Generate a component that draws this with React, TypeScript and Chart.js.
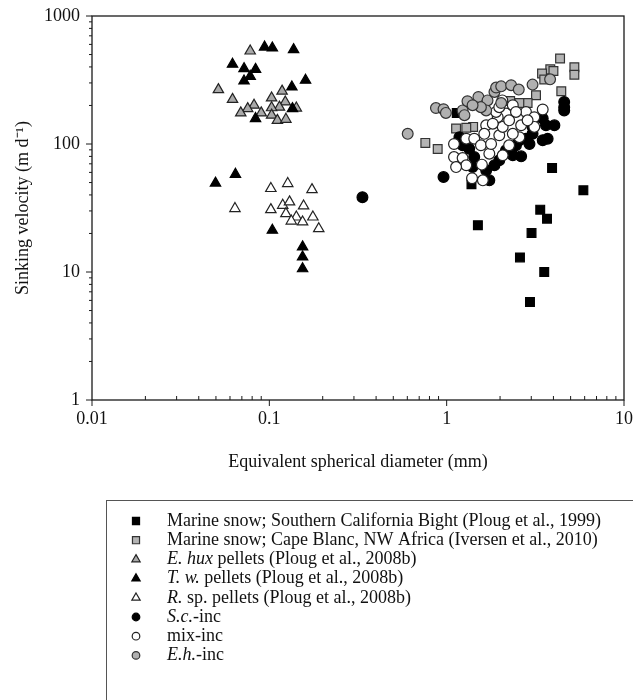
import React, { useEffect, useRef } from "react";
import { Chart, registerables } from "chart.js";
import { drawPoint } from "chart.js/helpers";

Chart.register(...registerables);

const FONT = "'Liberation Serif', 'Times New Roman', serif";

// ---- axis ticks ----
const xTickValues = [0.01, 0.1, 1, 10];
const xTickLabels = ["0.01", "0.1", "1", "10"];
const yTickValues = [1, 10, 100, 1000];
const yTickLabels = ["1", "10", "100", "1000"];

// ---- series labels (italic prefix + upright rest) ----
const labelItalic = ["", "", "E. hux", "T. w.", "R.", "S.c.", "", "E.h."];
const labelRest = [
  "Marine snow; Southern California Bight (Ploug et al., 1999)",
  "Marine snow; Cape Blanc, NW Africa (Iversen et al., 2010)",
  " pellets (Ploug et al., 2008b)",
  " pellets (Ploug et al., 2008b)",
  " sp. pellets (Ploug et al., 2008b)",
  "-inc",
  "mix-inc",
  "-inc",
];

// ---- data ----
const scbX = [3.93, 5.9, 3.37, 3.68, 1.5, 3.01, 2.59, 3.55, 2.95, 1.38, 1.14];
const scbY = [65, 43.5, 30.7, 26.1, 23.2, 20.2, 13.0, 10.0, 5.84, 48.4, 175];

const cbX = [4.36, 5.25, 5.25, 3.84, 4.0, 3.45, 3.55, 4.43, 3.19, 2.86, 2.57, 2.28, 1.41, 1.29, 1.13, 0.758, 0.89];
const cbY = [465, 398, 348, 383, 372, 355, 319, 258, 240, 209, 209, 217, 136, 134, 132, 102, 91.4];

const ehuxX = [0.078, 0.0516, 0.062, 0.118, 0.103, 0.123, 0.142, 0.114, 0.103, 0.082, 0.0755, 0.069, 0.09, 0.103, 0.111, 0.124];
const ehuxY = [533, 266, 223, 259, 229, 213, 191, 194, 192, 201, 189, 175, 175, 168, 153, 156];

const twX = [0.094, 0.104, 0.137, 0.062, 0.072, 0.0836, 0.078, 0.072, 0.16, 0.134, 0.0836, 0.135, 0.0497, 0.0644, 0.104, 0.154, 0.154, 0.154];
const twY = [572, 563, 546, 420, 388, 383, 338, 311, 315, 279, 158, 189, 49.5, 58, 21.2, 15.7, 13.1, 10.6];

const rspX = [0.064, 0.102, 0.127, 0.174, 0.102, 0.119, 0.13, 0.156, 0.124, 0.142, 0.154, 0.176, 0.19, 0.133];
const rspY = [31.3, 44.9, 49.1, 44, 30.7, 33.2, 35.3, 32.8, 28.6, 26.9, 24.6, 26.9, 21.8, 25];

const scX = [0.335, 0.96, 4.6, 4.6, 4.6, 4.05, 3.71, 3.48, 3.05, 2.93, 3.48, 3.63, 2.63, 2.57, 2.8, 2.16, 1.86, 1.74, 1.67, 1.4, 1.43, 1.18, 1.34, 1.23, 1.98, 2.36, 2.46, 3.05];
const scY = [38.4, 55.2, 213, 194, 183, 140, 110, 107, 120, 100, 158, 140, 80.1, 107, 110, 89.3, 68.2, 52, 62.3, 66.1, 79, 113, 92, 97.7, 74.6, 81.6, 97.7, 136];

const mixX = [1.1, 1.1, 1.23, 1.29, 1.39, 1.6, 1.58, 1.29, 1.43, 1.67, 1.56, 1.74, 1.78, 1.98, 2.07, 2.16, 2.36, 2.57, 2.63, 2.8, 3.12, 3.48, 3.12, 1.94, 1.82, 2.25, 2.36, 1.63, 2.07, 2.25, 2.86, 2.46, 1.9, 1.13, 2.06, 1.98];
const mixY = [100, 79, 77.7, 68.2, 54, 52, 69, 110, 110, 140, 97.7, 84, 100, 117, 136, 173, 201, 113, 140, 178, 162, 186, 136, 162, 144, 97.7, 120, 120, 81.6, 153, 153, 178, 178, 66, 219, 194];

const ehX = [0.603, 0.87, 0.96, 0.99, 1.23, 1.26, 1.31, 1.51, 1.7, 1.86, 1.9, 2.03, 2.31, 2.55, 3.05, 3.83, 1.67, 2.03, 1.56, 1.4];
const ehY = [120, 191, 187, 175, 183, 168, 216, 233, 219, 255, 276, 282, 288, 266, 291, 320, 183, 209, 194, 201];

const pts = (xs: number[], ys: number[]) => xs.map((x, i) => ({ x, y: ys[i] }));

const frameTicksPlugin = {
  id: "frameTicks",
  afterDraw(chart: any) {
    const { ctx, chartArea: a } = chart;
    const xs = chart.scales.x;
    const ys = chart.scales.y;
    ctx.save();
    ctx.strokeStyle = "#1a1a1a";
    ctx.lineWidth = 1.3;
    ctx.strokeRect(a.left, a.top, a.right - a.left, a.bottom - a.top);
    ctx.lineWidth = 1;
    ctx.beginPath();
    for (let d = Math.round(Math.log10(ys.min)); d <= Math.round(Math.log10(ys.max)); d++) {
      for (let k = 1; k <= 9; k++) {
        const v = k * Math.pow(10, d);
        if (v < ys.min * 0.9999999 || v > ys.max * 1.0000001) continue;
        const p = ys.getPixelForValue(v);
        ctx.moveTo(a.left, p);
        ctx.lineTo(a.left - (k === 1 ? 6 : 3), p);
      }
    }
    for (let d = Math.round(Math.log10(xs.min)); d <= Math.round(Math.log10(xs.max)); d++) {
      for (let k = 1; k <= 9; k++) {
        const v = k * Math.pow(10, d);
        if (v < xs.min * 0.9999999 || v > xs.max * 1.0000001) continue;
        const p = xs.getPixelForValue(v);
        if (k === 1) {
          ctx.moveTo(p, a.bottom);
          ctx.lineTo(p, a.bottom + 6);
        } else {
          ctx.moveTo(p, a.bottom);
          ctx.lineTo(p, a.bottom - 4);
        }
      }
    }
    ctx.stroke();
    ctx.restore();
  },
};

const LEG_LEFT = 106;
const LEG_TOP = 500;
const LEG_ROW0 = 521;
const LEG_STEP = 19.2;

const legendPlugin = {
  id: "customLegend",
  afterDraw(chart: any) {
    const { ctx } = chart;
    ctx.save();
    ctx.strokeStyle = "#555";
    ctx.lineWidth = 1;
    ctx.strokeRect(LEG_LEFT + 0.5, LEG_TOP + 0.5, 1000, 1000);
    chart.data.datasets.forEach((ds: any, i: number) => {
      const y = LEG_ROW0 + i * LEG_STEP;
      ctx.fillStyle = ds.backgroundColor;
      ctx.strokeStyle = ds.borderColor;
      ctx.lineWidth = 1.2;
      const r = ds.pointStyle === "rect" ? 5 : ds.pointStyle === "triangle" ? 4.8 : 3.8;
      drawPoint(ctx, { pointStyle: ds.pointStyle, radius: r, rotation: 0, borderWidth: 1.2 }, 136, y);
      let x = 167;
      ctx.fillStyle = "#111";
      ctx.textBaseline = "middle";
      ctx.textAlign = "left";
      if (labelItalic[i]) {
        ctx.font = `italic 18px ${FONT}`;
        ctx.fillText(labelItalic[i], x, y);
        x += ctx.measureText(labelItalic[i]).width;
      }
      ctx.font = `18px ${FONT}`;
      ctx.fillText(labelRest[i], x, y);
    });
    ctx.restore();
  },
};

function mk(label: string, data: any, style: string, bg: string, border: string, radius: number, order: number) {
  return {
    label,
    data,
    pointStyle: style,
    backgroundColor: bg,
    borderColor: border,
    pointRadius: radius,
    pointBorderWidth: 1.2,
    showLine: false,
    order,
  };
}

export default function App() {
  const ref = useRef<HTMLCanvasElement | null>(null);
  useEffect(() => {
    if (!ref.current) return;
    const labels = labelItalic.map((it, i) => it + labelRest[i]);
    const chart = new Chart(ref.current, {
      type: "scatter",
      data: {
        datasets: [
          mk(labels[0], pts(scbX, scbY), "rect", "#000000", "#000000", 6.2, 8),
          mk(labels[1], pts(cbX, cbY), "rect", "#b4b4b4", "#333333", 6.2, 7),
          mk(labels[2], pts(ehuxX, ehuxY), "triangle", "#a9a9a9", "#222222", 6, 6),
          mk(labels[3], pts(twX, twY), "triangle", "#000000", "#000000", 6, 5),
          mk(labels[4], pts(rspX, rspY), "triangle", "#ffffff", "#222222", 6, 4),
          mk(labels[5], pts(scX, scY), "circle", "#000000", "#000000", 5.4, 3),
          mk(labels[6], pts(mixX, mixY), "circle", "#ffffff", "#222222", 5.4, 2),
          mk(labels[7], pts(ehX, ehY), "circle", "#b0b0b0", "#333333", 5.4, 1),
        ],
      },
      options: {
        responsive: false,
        animation: false,
        events: [],
        layout: { padding: { left: 0, right: 9, top: 16, bottom: 227 } },
        plugins: { legend: { display: false }, tooltip: { enabled: false } },
        scales: {
          x: {
            type: "logarithmic",
            min: 0.01,
            max: 10,
            grid: { display: false, drawTicks: false },
            border: { display: false },
            afterBuildTicks: (s: any) => {
              s.ticks = xTickValues.map((v) => ({ value: v }));
            },
            afterFit: (s: any) => {
              s.height = 73;
              s.paddingLeft = 0;
              s.paddingRight = 0;
            },
            ticks: {
              autoSkip: false,
              maxRotation: 0,
              padding: 8,
              color: "#111",
              font: { family: FONT, size: 18 },
              callback: (v: any) => {
                const i = xTickValues.findIndex((t) => Math.abs(t - Number(v)) < 1e-9);
                return i >= 0 ? xTickLabels[i] : "";
              },
            },
            title: {
              display: true,
              text: "Equivalent spherical diameter (mm)",
              color: "#111",
              font: { family: FONT, size: 18 },
              padding: { top: 0, bottom: 0 },
            },
          },
          y: {
            type: "logarithmic",
            min: 1,
            max: 1000,
            grid: { display: false, drawTicks: false },
            border: { display: false },
            afterBuildTicks: (s: any) => {
              s.ticks = yTickValues.map((v) => ({ value: v }));
            },
            afterFit: (s: any) => {
              s.width = 92;
              s.paddingTop = 0;
              s.paddingBottom = 0;
            },
            ticks: {
              autoSkip: false,
              padding: 12,
              color: "#111",
              font: { family: FONT, size: 18 },
              callback: (v: any) => {
                const i = yTickValues.findIndex((t) => Math.abs(t - Number(v)) < 1e-9);
                return i >= 0 ? yTickLabels[i] : "";
              },
            },
            title: {
              display: true,
              text: "Sinking velocity (m d\u207B\u00B9)",
              color: "#111",
              font: { family: FONT, size: 18 },
              padding: { top: 12, bottom: 0 },
            },
          },
        },
      },
      plugins: [frameTicksPlugin, legendPlugin],
    } as any);
    return () => chart.destroy();
  }, []);

  return (
    <div style={{ position: "absolute", left: 0, top: 0, width: 633, height: 700, background: "#fff", overflow: "hidden" }}>
      <canvas ref={ref} width={633} height={700} />
    </div>
  );
}
